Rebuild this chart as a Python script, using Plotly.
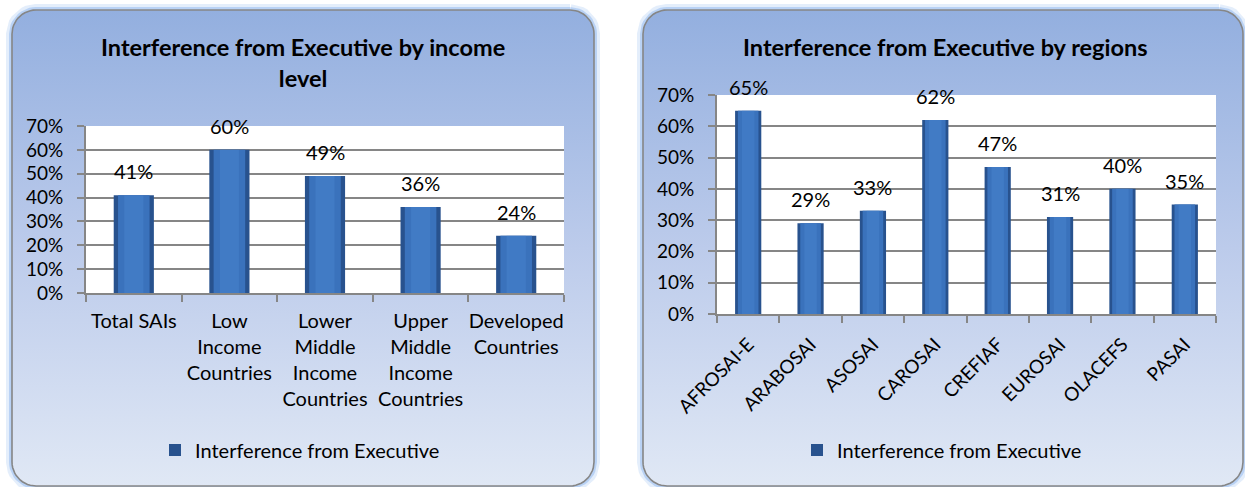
import numpy as np
import plotly.graph_objects as go

# ---------------- data ----------------
income_categories = ["Total SAIs", "Low<br>Income<br>Countries", "Lower<br>Middle<br>Income<br>Countries",
                     "Upper<br>Middle<br>Income<br>Countries", "Developed<br>Countries"]
income_values = [0.41, 0.60, 0.49, 0.36, 0.24]

region_categories = ["AFROSAI-E", "ARABOSAI", "ASOSAI", "CAROSAI", "CREFIAF", "EUROSAI", "OLACEFS", "PASAI"]
region_values = [0.65, 0.29, 0.33, 0.62, 0.47, 0.31, 0.40, 0.35]

series_name = "Interference from Executive"
title_left = "Interference from Executive by income<br>level"
title_right = "Interference from Executive by regions"

W, H = 1245, 487
FONT = "Lato"
GRID = "#868686"
BAR_DARK = "#28528e"
BAR_MID = "#3a72bc"
BAR_LIGHT = "#4a86d0"


def rrect(x0, y0, x1, y1, r, n=14):
    xs, ys = [], []
    corners = [(x1 - r, y0 + r, -90, 0), (x1 - r, y1 - r, 0, 90),
               (x0 + r, y1 - r, 90, 180), (x0 + r, y0 + r, 180, 270)]
    for cx, cy, a0, a1 in corners:
        t = np.radians(np.linspace(a0, a1, n))
        xs += list(cx + r * np.cos(t))
        ys += list(cy + r * np.sin(t))
    xs.append(xs[0]); ys.append(ys[0])
    return xs, ys


fig = go.Figure()

# panels (decoration on a full-figure pixel axis)
panels = [(12, 10, 594, 486), (643, 10, 1243, 486)]
for (x0, y0, x1, y1) in panels:
    xs, ys = rrect(x0, y0, x1, y1, 24)
    for w, c in [(12, "rgba(165,198,242,0.30)"), (6, "rgba(150,188,240,0.55)")]:
        fig.add_trace(go.Scatter(x=xs, y=ys, mode="lines", line=dict(color=c, width=w),
                                 hoverinfo="skip", showlegend=False, xaxis="x", yaxis="y"))
    fig.add_trace(go.Scatter(x=xs, y=ys, mode="lines", fill="toself",
                             fillgradient=dict(type="vertical", start=y0, stop=y1,
                                               colorscale=[[0, "#93afdf"], [0.5, "#bccbeb"], [1, "#e0e8f5"]]),
                             line=dict(color=GRID, width=1.6),
                             hoverinfo="skip", showlegend=False, xaxis="x", yaxis="y"))

# bars
def add_bars(cats, vals, xa, ya, legend):
    fig.add_trace(go.Bar(x=cats, y=vals, width=0.42, marker=dict(color=BAR_DARK, line=dict(width=0)),
                         name=series_name, showlegend=True, legend=legend, xaxis=xa, yaxis=ya))
    fig.add_trace(go.Bar(x=cats, y=vals, width=0.33, marker=dict(color=BAR_MID, line=dict(width=0)),
                         showlegend=False, xaxis=xa, yaxis=ya, hoverinfo="skip"))
    fig.add_trace(go.Bar(x=cats, y=vals, width=0.2, marker=dict(color=BAR_LIGHT, line=dict(width=0)),
                         opacity=0.45, showlegend=False, xaxis=xa, yaxis=ya, hoverinfo="skip"))


add_bars(income_categories, income_values, "x2", "y2", "legend")
add_bars(region_categories, region_values, "x3", "y3", "legend2")

annotations = []
for cats, vals, xr, yr in [(income_categories, income_values, "x2", "y2"),
                           (region_categories, region_values, "x3", "y3")]:
    for c, v in zip(cats, vals):
        annotations.append(dict(x=c, y=v, xref=xr, yref=yr, text=f"{round(v * 100)}%",
                                showarrow=False, yshift=24, yanchor="middle",
                                font=dict(family=FONT, size=20, color="#000")))

annotations.append(dict(x=303 / W, y=1 - 63 / H, xref="paper", yref="paper",
                        text="<b>" + title_left.replace("<br>", "</b><br><b>") + "</b>",
                        showarrow=False, xanchor="center", yanchor="middle",
                        font=dict(family=FONT, size=23.5, color="#000")))
annotations.append(dict(x=945 / W, y=1 - 47 / H, xref="paper", yref="paper", text="<b>" + title_right + "</b>",
                        showarrow=False, xanchor="center", yanchor="middle",
                        font=dict(family=FONT, size=23.5, color="#000")))

shapes = [
    dict(type="rect", xref="x2", yref="y2", x0=-0.5, x1=len(income_categories) - 0.5, y0=0, y1=0.7,
         fillcolor="white", line=dict(width=0), layer="below"),
    dict(type="rect", xref="x3", yref="y3", x0=-0.5, x1=len(region_categories) - 0.5, y0=0, y1=0.7,
         fillcolor="white", line=dict(width=0), layer="below"),
]

yax = dict(range=[0, 0.7], dtick=0.1, tickformat=".0%", showgrid=True, gridcolor=GRID, gridwidth=2,
           showline=True, linecolor=GRID, linewidth=2, ticks="outside", ticklen=7, tickcolor=GRID,
           tickwidth=2, zeroline=False, tickfont=dict(family=FONT, size=19, color="#000"), fixedrange=True,
           automargin=False, ticklabelstandoff=10)
xax = dict(type="category", showline=True, linecolor=GRID, linewidth=2, ticks="outside", tickson="boundaries",
           ticklen=7, tickcolor=GRID, tickwidth=2, showgrid=False, zeroline=False,
           fixedrange=True, automargin=False)

fig.update_layout(
    width=W, height=H, margin=dict(l=0, r=0, t=0, b=0, autoexpand=False),
    paper_bgcolor="white", plot_bgcolor="rgba(0,0,0,0)",
    barmode="overlay", bargap=0.58,
    xaxis=dict(domain=[0, 1], range=[0, W], visible=False, fixedrange=True, automargin=False),
    yaxis=dict(domain=[0, 1], range=[H, 0], visible=False, fixedrange=True, automargin=False),
    xaxis2=dict(domain=[86 / W, 564 / W], anchor="y2", range=[-0.5, len(income_categories) - 0.5],
                tickangle=0, ticklabelstandoff=9, tickfont=dict(family=FONT, size=20, color="#000"), **xax),
    yaxis2=dict(domain=[1 - 293 / H, 1 - 126 / H], anchor="x2", **yax),
    xaxis3=dict(domain=[717 / W, 1216 / W], anchor="y3", range=[-0.5, len(region_categories) - 0.5],
                tickangle=-45, ticklabelstandoff=10, tickfont=dict(family=FONT, size=19, color="#000"), **xax),
    yaxis3=dict(domain=[1 - 314 / H, 1 - 95 / H], anchor="x3", **yax),
    legend=dict(x=155 / W, y=1 - 450 / H, xanchor="left", yanchor="middle", bgcolor="rgba(0,0,0,0)",
                font=dict(family=FONT, size=20, color="#000"), itemwidth=30),
    legend2=dict(x=797 / W, y=1 - 450 / H, xanchor="left", yanchor="middle", bgcolor="rgba(0,0,0,0)",
                 font=dict(family=FONT, size=20, color="#000"), itemwidth=30),
    annotations=annotations, shapes=shapes, showlegend=True,
)

fig.write_html("out.html", config={"displayModeBar": False},
               post_script="document.body.style.margin='0';document.body.style.padding='0';")
